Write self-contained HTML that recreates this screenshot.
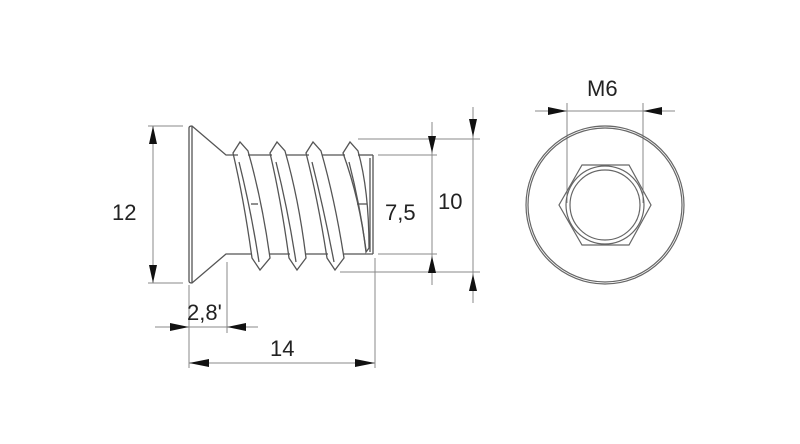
<!DOCTYPE html>
<html><head><style>
html,body{margin:0;padding:0;background:#fff;}
svg{display:block;}
text{font-family:"Liberation Sans",sans-serif;font-size:22px;fill:#222;}
</style></head><body>
<svg width="800" height="444" viewBox="0 0 800 444" xmlns="http://www.w3.org/2000/svg">
<g stroke="#555" stroke-width="1.3" fill="none">
<path d="M189,128 Q189,126 192,126 L226,155 L238,155"/>
<path d="M189,281 Q189,283 192,283 L226,254 L252,254"/>
<line x1="189" y1="128" x2="189" y2="281"/>
<line x1="192" y1="126" x2="192" y2="283"/>
<line x1="248" y1="155" x2="272" y2="155"/>
<line x1="286" y1="155" x2="309" y2="155"/>
<line x1="322" y1="155" x2="345" y2="155"/>
<line x1="358" y1="155" x2="373" y2="155"/>
<line x1="270" y1="254" x2="290" y2="254"/>
<line x1="306" y1="254" x2="328" y2="254"/>
<line x1="344" y1="254" x2="373" y2="254"/>
<line x1="373" y1="155" x2="373" y2="254"/>
<line x1="370" y1="158" x2="370" y2="252"/>
<path d="M233,153 L240,142 L248,151 Q262,200 270,258 L260,270 L252,258 Q244,200 233,153 Z"/>
<path d="M239,162 Q251,210 259,262"/>
<path d="M270,153 L277,142 L285,151 Q299,200 306,258 L297,270 L289,258 Q281,200 270,153 Z"/>
<path d="M276,162 Q288,210 296,262"/>
<path d="M306,153 L313,142 L321,151 Q335,200 344,258 L335,270 L327,258 Q318,200 306,153 Z"/>
<path d="M312,162 Q324,210 334,262"/>
<path d="M343,153 L350,142 L358,151 Q369,190 369,248 L366,252 Q360,200 343,153 Z"/>
<path d="M349,162 Q360,205 366,250"/>
<line x1="251" y1="204" x2="258" y2="204"/>
<line x1="357" y1="204" x2="367" y2="204"/>
</g>
<g stroke="#888" stroke-width="1" fill="none">
<line x1="148" y1="126" x2="183" y2="126"/>
<line x1="148" y1="283" x2="183" y2="283"/>
<line x1="153" y1="126" x2="153" y2="283"/>
<line x1="358" y1="139" x2="480" y2="139"/>
<line x1="378" y1="155" x2="437" y2="155"/>
<line x1="378" y1="254" x2="437" y2="254"/>
<line x1="340" y1="272" x2="480" y2="272"/>
<line x1="432" y1="122" x2="432" y2="285"/>
<line x1="473" y1="107" x2="473" y2="303"/>
<line x1="155" y1="327" x2="258" y2="327"/>
<line x1="227" y1="262" x2="227" y2="333"/>
<line x1="189" y1="285" x2="189" y2="368"/>
<line x1="375" y1="258" x2="375" y2="368"/>
<line x1="189" y1="363" x2="375" y2="363"/>
<line x1="535" y1="111" x2="675" y2="111"/>
<line x1="567" y1="103" x2="567" y2="203"/>
<line x1="643" y1="103" x2="643" y2="203"/>
</g>
<g fill="#111">
<polygon points="153,126 149,144 157,144"/>
<polygon points="153,283 149,265 157,265"/>
<polygon points="432,153 428,136 436,136"/>
<polygon points="432,256 428,273 436,273"/>
<polygon points="473,137 469,119 477,119"/>
<polygon points="473,274 469,291 477,291"/>
<polygon points="189,327 170,323 170,331"/>
<polygon points="227,327 246,323 246,331"/>
<polygon points="189,363 209,359 209,367"/>
<polygon points="375,363 355,359 355,367"/>
<polygon points="567,111 548,107 548,115"/>
<polygon points="643,111 662,107 662,115"/>
</g>
<g stroke="#666" stroke-width="1.2" fill="none">
<circle cx="605" cy="205" r="79"/>
<circle cx="605" cy="205" r="77"/>
<polygon points="582,165 629,165 651,205 629,245 582,245 559,205"/>
<circle cx="605" cy="205" r="39"/>
<circle cx="605" cy="205" r="35"/>
</g>
<text x="112" y="220">12</text>
<text x="385" y="220">7,5</text>
<text x="438" y="209">10</text>
<text x="187" y="320">2,8'</text>
<text x="270" y="356">14</text>
<text x="587" y="96">M6</text>
</svg>
</body></html>
